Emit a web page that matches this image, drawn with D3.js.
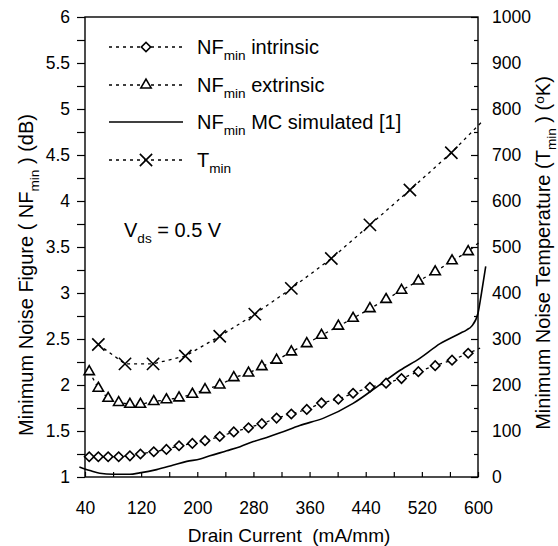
<!DOCTYPE html>
<html>
<head>
<meta charset="utf-8">
<script src="https://cdn.jsdelivr.net/npm/d3@7"></script>
<style>
body { margin: 0; background: #fff; }
svg text { font-family: "Liberation Sans", Arial, sans-serif; fill: #000; white-space: pre; }
</style>
</head>
<body>
<script>
// drain current (mA/mm) for the NFmin points
var currentNF = [46, 59, 73, 88, 104, 119, 138, 156, 174, 193, 211, 232, 252, 273, 292, 313, 334, 356, 377, 401, 422, 446, 469, 491, 515, 539, 563, 586];
var nfIntrinsic = [1.22, 1.22, 1.22, 1.22, 1.23, 1.25, 1.275, 1.30, 1.34, 1.365, 1.395, 1.44, 1.49, 1.535, 1.58, 1.64, 1.685, 1.735, 1.805, 1.845, 1.91, 1.975, 2.02, 2.07, 2.145, 2.21, 2.27, 2.345];
var nfExtrinsic = [2.145, 1.965, 1.855, 1.81, 1.79, 1.79, 1.82, 1.84, 1.86, 1.90, 1.95, 2.0, 2.08, 2.13, 2.2, 2.27, 2.36, 2.45, 2.54, 2.64, 2.725, 2.83, 2.93, 3.03, 3.13, 3.23, 3.35, 3.45];

// Tmin (K)
var currentT = [59, 97, 137, 183, 232, 282, 334, 391, 446, 503, 562];
var tMin = [288, 246, 246, 263, 306, 354, 410, 475, 548, 624, 705];

// dotted trend lines run past the last marker: intrinsic, extrinsic, Tmin
var lineEndCurrent = [603, 603, 608];
var lineEndValue = [2.40, 3.56, 776];

// NFmin MC simulated [1]
var currentMC = [32, 47, 61, 80, 104, 118, 142, 166, 185, 204, 218, 242, 261, 280, 299, 318, 346, 380, 422, 456, 489, 517, 546, 574, 584, 591, 600, 605, 611];
var nfMC = [1.11, 1.07, 1.04, 1.03, 1.03, 1.045, 1.08, 1.13, 1.17, 1.195, 1.23, 1.285, 1.33, 1.385, 1.43, 1.48, 1.56, 1.64, 1.80, 1.98, 2.16, 2.29, 2.45, 2.56, 2.60, 2.64, 2.78, 3.0, 3.29];

var xTicks = d3.range(40, 601, 40);
var xLabels = d3.range(40, 601, 80);
var yLeftTicks = d3.range(1, 6.01, 0.25);
var yRightMajor = d3.range(0, 1001, 100);
var yRightMinor = d3.range(50, 1000, 100);

drawChart();

function drawChart() {
    var W = 558, H = 546;
    var pl = 85, pr = 478, pt = 17, pb = 477;

    var svg = d3.select("body").append("svg")
        .attr("width", W)
        .attr("height", H);

    var x = d3.scaleLinear().domain([40, 600]).range([pl, pr]);
    var yL = d3.scaleLinear().domain([1, 6]).range([pb, pt]);
    var yR = d3.scaleLinear().domain([0, 1000]).range([pb, pt]);

    // writes text with sub/superscripts: parts = [[text, shift]] shift 1 = sub, -1 = sup
    function richText(t, parts, size) {
        var cur = 0;
        parts.forEach(function (p) {
            var shift = p[1] || 0;
            var off = shift * size * 0.3;
            var ts = t.append("tspan").text(p[0]).attr("dy", off - cur);
            if (shift != 0) ts.attr("font-size", size * 0.68);
            cur = off;
        });
    }

    function styleAxis(g) {
        g.select(".domain").remove();
        g.selectAll(".tick line").attr("stroke", "#000").attr("stroke-width", 1.2);
        g.selectAll(".tick text").attr("font-size", 17.5).attr("fill", "#000")
            .attr("font-family", "Liberation Sans, Arial, sans-serif");
    }

    // left axis, ticks outside
    svg.append("g")
        .attr("transform", "translate(" + pl + ",0)")
        .call(d3.axisLeft(yL).tickValues(yLeftTicks).tickSize(8).tickPadding(7)
            .tickFormat(function (d) { return Math.abs(d * 2 - Math.round(d * 2)) < 1e-6 ? d3.format("")(d) : ""; }))
        .call(styleAxis);

    // bottom axis, ticks inside
    svg.append("g")
        .attr("transform", "translate(0," + pb + ")")
        .call(d3.axisBottom(x).tickValues(xTicks).tickSize(-5).tickPadding(25)
            .tickFormat(function (d) { return xLabels.indexOf(d) >= 0 ? d : ""; }))
        .call(styleAxis);

    // right axis, ticks inside
    svg.append("g")
        .attr("transform", "translate(" + pr + ",0)")
        .call(d3.axisRight(yR).tickValues(yRightMajor).tickSize(-7).tickPadding(14).tickFormat(d3.format("d")))
        .call(styleAxis);
    svg.append("g")
        .attr("transform", "translate(" + pr + ",0)")
        .call(d3.axisRight(yR).tickValues(yRightMinor).tickSize(-4).tickFormat(""))
        .call(styleAxis);

    // frame
    svg.append("rect")
        .attr("x", pl).attr("y", pt)
        .attr("width", pr - pl).attr("height", pb - pt)
        .attr("fill", "none").attr("stroke", "#000").attr("stroke-width", 1.4);

    // series
    var lineL = d3.line().x(function (d) { return x(d[0]); }).y(function (d) { return yL(d[1]); });
    var lineR = d3.line().x(function (d) { return x(d[0]); }).y(function (d) { return yR(d[1]); });

    var intrinsicPts = d3.zip(currentNF, nfIntrinsic);
    var extrinsicPts = d3.zip(currentNF, nfExtrinsic);
    var tPts = d3.zip(currentT, tMin);
    var mcPts = d3.zip(currentMC, nfMC);

    var dash = "3,4";

    svg.append("path").datum(intrinsicPts.concat([[lineEndCurrent[0], lineEndValue[0]]]))
        .attr("d", lineL).attr("fill", "none").attr("stroke", "#000").attr("stroke-width", 1.3).attr("stroke-dasharray", dash);
    svg.append("path").datum(extrinsicPts.concat([[lineEndCurrent[1], lineEndValue[1]]]))
        .attr("d", lineL).attr("fill", "none").attr("stroke", "#000").attr("stroke-width", 1.3).attr("stroke-dasharray", dash);
    svg.append("path").datum(tPts.concat([[lineEndCurrent[2], lineEndValue[2]]]))
        .attr("d", lineR).attr("fill", "none").attr("stroke", "#000").attr("stroke-width", 1.3).attr("stroke-dasharray", dash);
    svg.append("path").datum(mcPts)
        .attr("d", lineL.curve(d3.curveMonotoneX)).attr("fill", "none").attr("stroke", "#000").attr("stroke-width", 1.6);

    var diamond = d3.symbol(d3.symbolSquare, 44);
    var triangle = d3.symbol(d3.symbolTriangle, 46);
    var cross = d3.symbol(d3.symbolX, 100);

    function drawMarkers(pts, sym, rot, scaleY) {
        svg.append("g").selectAll("path").data(pts).join("path")
            .attr("d", sym)
            .attr("transform", function (d) { return "translate(" + x(d[0]) + "," + scaleY(d[1]) + ") rotate(" + rot + ")"; })
            .attr("fill", "#fff").attr("stroke", "#000").attr("stroke-width", 1.6);
    }

    drawMarkers(intrinsicPts, diamond, 45, yL);
    drawMarkers(extrinsicPts, triangle, 0, yL);
    drawMarkers(tPts, cross, 0, yR);

    // legend
    var legendRows = [
        { y: 47, sym: diamond, rot: 45, dashed: true, parts: [["NF"], ["min", 1], [" intrinsic"]] },
        { y: 85, sym: triangle, rot: 0, dashed: true, parts: [["NF"], ["min", 1], [" extrinsic"]] },
        { y: 122, sym: null, rot: 0, dashed: false, parts: [["NF"], ["min", 1], [" MC simulated [1]"]] },
        { y: 160, sym: cross, rot: 0, dashed: true, parts: [["T"], ["min", 1]] }
    ];
    legendRows.forEach(function (r) {
        svg.append("line")
            .attr("x1", 109).attr("x2", 183).attr("y1", r.y).attr("y2", r.y)
            .attr("stroke", "#000").attr("stroke-width", r.dashed ? 1.3 : 1.6)
            .attr("stroke-dasharray", r.dashed ? dash : null);
        if (r.sym) {
            svg.append("path").attr("d", r.sym)
                .attr("transform", "translate(146," + r.y + ") rotate(" + r.rot + ")")
                .attr("fill", "#fff").attr("stroke", "#000").attr("stroke-width", 1.6);
        }
        var t = svg.append("text").attr("x", 197).attr("y", r.y + 7).attr("font-size", 20);
        richText(t, r.parts, 20);
    });

    // annotation
    var ann = svg.append("text").attr("x", 124).attr("y", 237).attr("font-size", 20);
    richText(ann, [["V"], ["ds", 1], [" = 0.5 V"]], 20);

    // axis titles
    var tl = svg.append("text").attr("transform", "translate(33,275) rotate(-90)")
        .attr("text-anchor", "middle").attr("font-size", 20);
    richText(tl, [["Minimum Noise Figure ( NF"], ["min", 1], [" ) (dB)"]], 20);

    var tr = svg.append("text").attr("transform", "translate(550,253) rotate(-90)")
        .attr("text-anchor", "middle").attr("font-size", 20);
    richText(tr, [["Minimum Noise Temperature (T"], ["min", 1], [" ) ("], ["o", -1], ["K)"]], 20);

    svg.append("text").attr("x", 289).attr("y", 542).attr("text-anchor", "middle")
        .attr("font-size", 19).text("Drain Current  (mA/mm)");
}
</script>
</body>
</html>
